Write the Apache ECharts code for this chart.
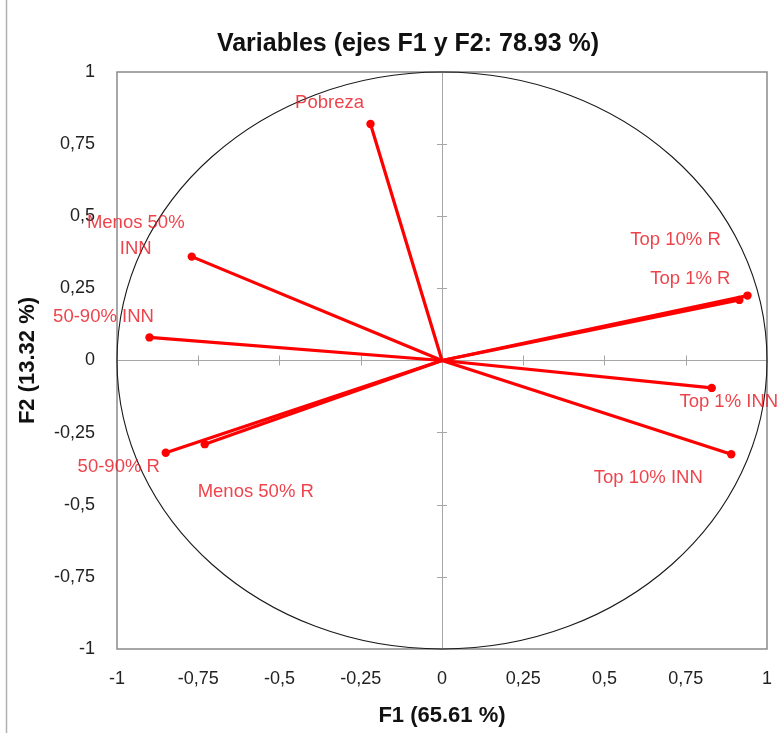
<!DOCTYPE html>
<html>
<head>
<meta charset="utf-8">
<script src="https://cdn.jsdelivr.net/npm/echarts@6/dist/echarts.min.js"></script>
<style>html,body{margin:0;padding:0;background:#fff;}#c{width:781px;height:733px;}</style>
</head>
<body>
<div id="c"></div>
<script>
// ---- data ----
var variableNames = ['Pobreza', 'Menos 50%\nINN', '50-90% INN', '50-90% R', 'Menos 50% R', 'Top 10% R', 'Top 1% R', 'Top 1% INN', 'Top 10% INN'];
var f1Values = [-0.22, -0.77, -0.90, -0.85, -0.73, 0.94, 0.915, 0.83, 0.89];
var f2Values = [0.82, 0.36, 0.08, -0.32, -0.29, 0.225, 0.21, -0.095, -0.325];
var axisTicks = [-1, -0.75, -0.5, -0.25, 0, 0.25, 0.5, 0.75, 1];

// ---- label placement (style, pixel offsets of label centre from point) ----
var labelOffsets = [[-41, -21], [-56, -21], [-46, -21], [-47, 14], [51, 48], [-72, -56], [-49, -21], [17, 14], [-83, 24]];

var RED = '#ff0000';
var LABEL_RED = '#e8141e';
var FONT = '"Liberation Sans", Arial, sans-serif';
var GREY = '#8a8a8a';

function fmt(v) { return String(v).replace('.', ','); }

var points = variableNames.map(function (n, i) { return [f1Values[i], f2Values[i], n]; });

var chart = echarts.init(document.getElementById('c'), null, { renderer: 'canvas' });

var baseAxis = { type: 'value', min: -1, max: 1, interval: 0.25 };

function zeroAxis(pos) {
  return Object.assign({}, baseAxis, {
    position: pos,
    axisLine: { show: true, onZero: true, onZeroAxisIndex: 0, lineStyle: { color: '#a6a6a6', width: 1 } },
    axisTick: { show: true, inside: true, length: 5, lineStyle: { color: '#a6a6a6' } },
    axisLabel: { show: false }, splitLine: { show: false }
  });
}

var option = {
  backgroundColor: '#fff',
  animation: false,
  title: {
    text: 'Variables (ejes F1 y F2: 78.93 %)',
    left: 403, top: 27, textAlign: 'center',
    textStyle: { fontFamily: FONT, fontWeight: 'bold', fontSize: 25, color: '#111' }
  },
  grid: { left: 117, right: 14, top: 72, bottom: 84, show: true, borderColor: GREY, borderWidth: 1.5, backgroundColor: 'transparent' },
  xAxis: [
    Object.assign({}, baseAxis, {
      position: 'bottom',
      name: 'F1 (65.61 %)', nameLocation: 'middle', nameGap: 56,
      nameTextStyle: { fontFamily: FONT, fontWeight: 'bold', fontSize: 22, color: '#111' },
      axisLine: { show: false, onZero: false },
      axisTick: { show: false },
      splitLine: { show: false },
      axisLabel: { fontFamily: FONT, fontSize: 18, color: '#222', margin: 21, formatter: fmt, customValues: axisTicks }
    }),
    zeroAxis('bottom'),
    zeroAxis('top')
  ],
  yAxis: [
    Object.assign({}, baseAxis, {
      position: 'left',
      name: 'F2 (13.32 %)', nameLocation: 'middle', nameGap: 78, nameRotate: 90,
      nameTextStyle: { fontFamily: FONT, fontWeight: 'bold', fontSize: 22, color: '#111' },
      axisLine: { show: false, onZero: false },
      axisTick: { show: false },
      splitLine: { show: false },
      axisLabel: { fontFamily: FONT, fontSize: 18, color: '#222', margin: 22, formatter: fmt }
    }),
    zeroAxis('left'),
    zeroAxis('right')
  ],
  graphic: [
    { type: 'line', shape: { x1: 6.5, y1: 0, x2: 6.5, y2: 733 }, style: { stroke: '#b0b0b0', lineWidth: 1.5 } }
  ],
  series: [
    {
      // correlation circle
      type: 'custom',
      xAxisIndex: 0, yAxisIndex: 0,
      data: [[0, 0]],
      silent: true,
      z: 1,
      renderItem: function (params, api) {
        var c = api.coord([0, 0]);
        var e = api.coord([1, 1]);
        return {
          type: 'ellipse',
          shape: { cx: c[0], cy: c[1], rx: Math.abs(e[0] - c[0]), ry: Math.abs(e[1] - c[1]) },
          style: { fill: null, stroke: '#1a1a1a', lineWidth: 1.1 }
        };
      }
    },
    {
      // vectors from origin
      type: 'custom',
      xAxisIndex: 0, yAxisIndex: 0,
      data: points,
      z: 3,
      renderItem: function (params, api) {
        var o = api.coord([0, 0]);
        var p = api.coord([api.value(0), api.value(1)]);
        return {
          type: 'group',
          children: [
            { type: 'line', shape: { x1: o[0], y1: o[1], x2: p[0], y2: p[1] }, style: { stroke: RED, lineWidth: 3.2, lineCap: 'round' } },
            { type: 'circle', shape: { cx: p[0], cy: p[1], r: 4.2 }, style: { fill: RED } }
          ]
        };
      }
    },
    {
      // labels
      type: 'scatter',
      xAxisIndex: 0, yAxisIndex: 0,
      symbolSize: 0,
      z: 4,
      data: points.map(function (p, i) {
        return {
          value: [p[0], p[1]],
          label: {
            show: true, position: 'inside', offset: labelOffsets[i],
            formatter: p[2], fontFamily: FONT, fontSize: 18.5, color: LABEL_RED,
            lineHeight: 26, align: 'center', verticalAlign: 'middle'
          }
        };
      })
    }
  ]
};
chart.setOption(option);
</script>
</body>
</html>
